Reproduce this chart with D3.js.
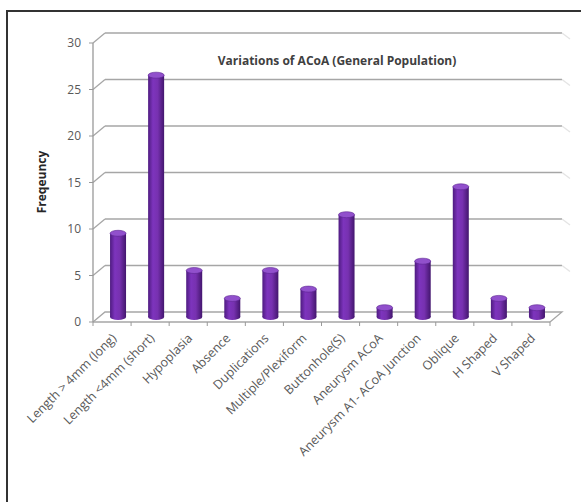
<!DOCTYPE html>
<html lang="en">
<head>
<meta charset="utf-8">
<title>Variations of ACoA</title>
<script src="https://d3js.org/d3.v7.min.js"></script>
<style>
  body { margin: 0; background: #fff; }
  svg text { font-family: "Open Sans", sans-serif; }
</style>
</head>
<body>
<div id="chart_data"></div>
<script>
// data
var categories = ["Length > 4mm (long)", "Length <4mm (short)", "Hypoplasia", "Absence",
  "Duplications", "Multiple/Plexiform", "Buttonhole(S)", "Aneurysm ACoA",
  "Aneurysm A1- ACoA Junction", "Oblique", "H Shaped", "V Shaped"];
var frequencies = [9, 26, 5, 2, 5, 3, 11, 1, 6, 14, 2, 1];
var yTicks = [0, 5, 10, 15, 20, 25, 30];

var W = 581, H = 502;
var x0 = 93, x1 = 550, yBase = 322, yTop = 43;
var depthX = 12, depthY = -10; // 3d depth of the plot box

var svg = d3.select("#chart_data").append("svg")
  .attr("width", W).attr("height", H);

// outer frame (right and bottom edges lie outside the picture)
svg.append("rect")
  .attr("x", 7).attr("y", 11)
  .attr("width", 600).attr("height", 520)
  .attr("fill", "#fff").attr("stroke", "#333").attr("stroke-width", 2);

var x = d3.scaleBand().domain(categories).range([x0, x1]).padding(0);
var y = d3.scaleLinear().domain([0, 30]).range([yBase, yTop]);

// cylinder gradient
var defs = svg.append("defs");
var grad = defs.append("linearGradient").attr("id", "cyl")
  .attr("x1", "0%").attr("x2", "100%").attr("y1", "0%").attr("y2", "0%");
grad.append("stop").attr("offset", "0%").attr("stop-color", "#4e1b80");
grad.append("stop").attr("offset", "30%").attr("stop-color", "#7d34bd");
grad.append("stop").attr("offset", "60%").attr("stop-color", "#7731b0");
grad.append("stop").attr("offset", "100%").attr("stop-color", "#43166e");

// back wall gridlines + side wall diagonals
var grid = svg.append("g").attr("stroke", "#a6a6a6").attr("stroke-width", 1.3).attr("fill", "none");
yTicks.forEach(function(t) {
  if (t === 0) return;
  grid.append("line")
    .attr("x1", x0 + depthX).attr("x2", x1 + depthX)
    .attr("y1", y(t) + depthY).attr("y2", y(t) + depthY);
  grid.append("line")
    .attr("x1", x0).attr("x2", x0 + depthX)
    .attr("y1", y(t)).attr("y2", y(t) + depthY);
  // faint right edge of the back wall
  grid.append("line")
    .attr("stroke", "#e4e4e4")
    .attr("x1", x1 + depthX).attr("x2", x1 + depthX + 8)
    .attr("y1", y(t) + depthY).attr("y2", y(t) + depthY + 6);
});

// floor
var floor = svg.append("g").attr("stroke", "#a6a6a6").attr("stroke-width", 1.3).attr("fill", "none");
floor.append("path")
  .attr("d", "M" + x0 + "," + yBase + "L" + (x0 + depthX) + "," + (yBase + depthY) +
    "L" + (x1 + depthX) + "," + (yBase + depthY) + "L" + x1 + "," + yBase);
floor.append("line")
  .attr("x1", x0).attr("x2", x1).attr("y1", yBase).attr("y2", yBase);

// y axis
svg.append("line")
  .attr("x1", x0).attr("x2", x0).attr("y1", yTop).attr("y2", yBase)
  .attr("stroke", "#999").attr("stroke-width", 1.3);
svg.selectAll(".ytick").data(yTicks).enter().append("line")
  .attr("x1", x0 - 4).attr("x2", x0).attr("y1", function(d) { return y(d); }).attr("y2", function(d) { return y(d); })
  .attr("stroke", "#999");
svg.selectAll(".ylab").data(yTicks).enter().append("text")
  .attr("x", x0 - 12).attr("y", function(d) { return y(d) + 4; })
  .attr("text-anchor", "end")
  .style("font-size", "12px").attr("fill", "#595959")
  .text(function(d) { return d; });

// x ticks
var xEdges = categories.map(function(c) { return x(c); }).concat([x1]);
svg.selectAll(".xtick").data(xEdges).enter().append("line")
  .attr("x1", function(d) { return d; }).attr("x2", function(d) { return d; })
  .attr("y1", yBase).attr("y2", yBase + 4)
  .attr("stroke", "#999");

// bars as cylinders, standing mid-depth
var bw = 16, ry = 3;
var bars = svg.selectAll(".bar").data(categories).enter().append("g");
bars.each(function(c, i) {
  var g = d3.select(this);
  var cx = x(c) + x.bandwidth() / 2 + depthX / 2;
  var yb = yBase + depthY / 2;
  var yt = y(frequencies[i]) + depthY / 2;
  g.append("ellipse").attr("cx", cx).attr("cy", yb).attr("rx", bw / 2).attr("ry", ry)
    .attr("fill", "url(#cyl)");
  g.append("rect").attr("x", cx - bw / 2).attr("y", yt).attr("width", bw).attr("height", yb - yt)
    .attr("fill", "url(#cyl)");
  g.append("ellipse").attr("cx", cx).attr("cy", yt).attr("rx", bw / 2).attr("ry", ry)
    .attr("fill", "#9150cc").attr("stroke", "#5b2390").attr("stroke-width", 0.6);
});

// x labels
svg.selectAll(".xlab").data(categories).enter().append("text")
  .attr("transform", function(d) {
    return "translate(" + (x(d) + x.bandwidth() / 2 + 5) + "," + (yBase + 17) + ") rotate(-45)";
  })
  .attr("text-anchor", "end")
  .style("font-size", "12.5px").attr("fill", "#595959")
  .text(function(d) { return d; });

// chart title
svg.append("text")
  .attr("x", 337).attr("y", 65)
  .attr("text-anchor", "middle")
  .style("font-size", "12px").style("font-weight", "bold").attr("fill", "#404040")
  .text("Variations of ACoA (General Population)");

// y axis title
svg.append("text")
  .attr("transform", "translate(46,182) rotate(-90)")
  .attr("text-anchor", "middle")
  .style("font-size", "12px").style("font-weight", "bold").attr("fill", "#262626")
  .text("Freqeuncy");
</script>
</body>
</html>
